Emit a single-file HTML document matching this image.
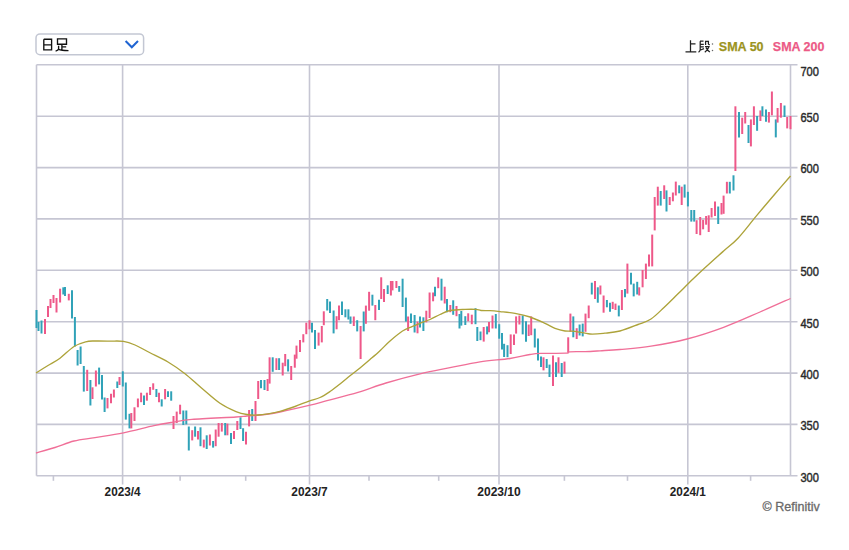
<!DOCTYPE html>
<html><head><meta charset="utf-8"><style>
html,body{margin:0;padding:0;background:#fff;width:849px;height:550px;overflow:hidden}
svg{display:block;font-family:"Liberation Sans",sans-serif}
</style></head><body>
<svg width="849" height="550" viewBox="0 0 849 550">
<rect width="849" height="550" fill="#fff"/>
<line x1="36.5" y1="64.8" x2="797.5" y2="64.8" stroke="#c6c6d3" stroke-width="1.6"/>
<line x1="36.5" y1="116.2" x2="797.5" y2="116.2" stroke="#c6c6d3" stroke-width="1.6"/>
<line x1="36.5" y1="167.6" x2="797.5" y2="167.6" stroke="#c6c6d3" stroke-width="1.6"/>
<line x1="36.5" y1="218.9" x2="797.5" y2="218.9" stroke="#c6c6d3" stroke-width="1.6"/>
<line x1="36.5" y1="270.3" x2="797.5" y2="270.3" stroke="#c6c6d3" stroke-width="1.6"/>
<line x1="36.5" y1="321.7" x2="797.5" y2="321.7" stroke="#c6c6d3" stroke-width="1.6"/>
<line x1="36.5" y1="373.1" x2="797.5" y2="373.1" stroke="#c6c6d3" stroke-width="1.6"/>
<line x1="36.5" y1="424.4" x2="797.5" y2="424.4" stroke="#c6c6d3" stroke-width="1.6"/>
<line x1="36.5" y1="475.8" x2="797.5" y2="475.8" stroke="#c6c6d3" stroke-width="1.6"/>
<line x1="122.6" y1="64.8" x2="122.6" y2="484.5" stroke="#c6c6d3" stroke-width="1.6"/>
<line x1="309.5" y1="64.8" x2="309.5" y2="484.5" stroke="#c6c6d3" stroke-width="1.6"/>
<line x1="499.0" y1="64.8" x2="499.0" y2="484.5" stroke="#c6c6d3" stroke-width="1.6"/>
<line x1="687.8" y1="64.8" x2="687.8" y2="484.5" stroke="#c6c6d3" stroke-width="1.6"/>
<line x1="36.5" y1="64.8" x2="36.5" y2="475.8" stroke="#c6c6d3" stroke-width="1.6"/>
<line x1="790.5" y1="64.8" x2="790.5" y2="475.8" stroke="#c6c6d3" stroke-width="1.6"/>
<line x1="53.4" y1="475.8" x2="53.4" y2="480.8" stroke="#c6c6d3" stroke-width="1.6"/>
<line x1="180.1" y1="475.8" x2="180.1" y2="480.8" stroke="#c6c6d3" stroke-width="1.6"/>
<line x1="245.7" y1="475.8" x2="245.7" y2="480.8" stroke="#c6c6d3" stroke-width="1.6"/>
<line x1="369.0" y1="475.8" x2="369.0" y2="480.8" stroke="#c6c6d3" stroke-width="1.6"/>
<line x1="438.7" y1="475.8" x2="438.7" y2="480.8" stroke="#c6c6d3" stroke-width="1.6"/>
<line x1="564.4" y1="475.8" x2="564.4" y2="480.8" stroke="#c6c6d3" stroke-width="1.6"/>
<line x1="627.5" y1="475.8" x2="627.5" y2="480.8" stroke="#c6c6d3" stroke-width="1.6"/>
<line x1="750.6" y1="475.8" x2="750.6" y2="480.8" stroke="#c6c6d3" stroke-width="1.6"/>
<line x1="36.5" y1="310.0" x2="36.5" y2="328.0" stroke="#30a2b8" stroke-width="2"/>
<line x1="38.5" y1="322.0" x2="38.5" y2="331.0" stroke="#30a2b8" stroke-width="2"/>
<line x1="41.5" y1="320.5" x2="41.5" y2="333.5" stroke="#30a2b8" stroke-width="2"/>
<line x1="45.0" y1="319.0" x2="45.0" y2="334.0" stroke="#ee5889" stroke-width="2"/>
<line x1="48.0" y1="306.0" x2="48.0" y2="317.0" stroke="#ee5889" stroke-width="2"/>
<line x1="50.5" y1="299.0" x2="50.5" y2="308.0" stroke="#ee5889" stroke-width="2"/>
<line x1="53.5" y1="295.0" x2="53.5" y2="303.0" stroke="#ee5889" stroke-width="2"/>
<line x1="56.5" y1="298.0" x2="56.5" y2="312.5" stroke="#ee5889" stroke-width="2"/>
<line x1="60.1" y1="288.7" x2="60.1" y2="302.5" stroke="#ee5889" stroke-width="2"/>
<line x1="63.3" y1="287.3" x2="63.3" y2="294.5" stroke="#30a2b8" stroke-width="2"/>
<line x1="65.0" y1="287.0" x2="65.0" y2="296.0" stroke="#30a2b8" stroke-width="2"/>
<line x1="68.8" y1="293.8" x2="68.8" y2="300.4" stroke="#ee5889" stroke-width="2"/>
<line x1="72.0" y1="290.2" x2="72.0" y2="318.5" stroke="#30a2b8" stroke-width="2"/>
<line x1="74.9" y1="317.0" x2="74.9" y2="346.5" stroke="#30a2b8" stroke-width="2"/>
<line x1="77.6" y1="350.0" x2="77.6" y2="365.5" stroke="#30a2b8" stroke-width="2"/>
<line x1="80.6" y1="346.5" x2="80.6" y2="364.0" stroke="#30a2b8" stroke-width="2"/>
<line x1="83.8" y1="366.0" x2="83.8" y2="391.6" stroke="#30a2b8" stroke-width="2"/>
<line x1="87.2" y1="369.8" x2="87.2" y2="391.0" stroke="#ee5889" stroke-width="2"/>
<line x1="90.4" y1="380.0" x2="90.4" y2="405.5" stroke="#30a2b8" stroke-width="2"/>
<line x1="92.5" y1="387.3" x2="92.5" y2="399.0" stroke="#ee5889" stroke-width="2"/>
<line x1="95.9" y1="370.5" x2="95.9" y2="386.5" stroke="#ee5889" stroke-width="2"/>
<line x1="99.1" y1="367.6" x2="99.1" y2="384.4" stroke="#30a2b8" stroke-width="2"/>
<line x1="102.0" y1="375.0" x2="102.0" y2="399.6" stroke="#30a2b8" stroke-width="2"/>
<line x1="104.6" y1="397.5" x2="104.6" y2="412.0" stroke="#30a2b8" stroke-width="2"/>
<line x1="107.5" y1="398.0" x2="107.5" y2="408.4" stroke="#ee5889" stroke-width="2"/>
<line x1="111.0" y1="393.8" x2="111.0" y2="403.3" stroke="#ee5889" stroke-width="2"/>
<line x1="113.9" y1="389.5" x2="113.9" y2="397.5" stroke="#ee5889" stroke-width="2"/>
<line x1="117.3" y1="381.5" x2="117.3" y2="388.0" stroke="#30a2b8" stroke-width="2"/>
<line x1="119.5" y1="377.0" x2="119.5" y2="385.0" stroke="#ee5889" stroke-width="2"/>
<line x1="122.8" y1="371.3" x2="122.8" y2="386.5" stroke="#30a2b8" stroke-width="2"/>
<line x1="125.8" y1="382.5" x2="125.8" y2="419.6" stroke="#30a2b8" stroke-width="2"/>
<line x1="129.5" y1="413.8" x2="129.5" y2="428.4" stroke="#30a2b8" stroke-width="2"/>
<line x1="131.3" y1="413.0" x2="131.3" y2="428.4" stroke="#ee5889" stroke-width="2"/>
<line x1="134.5" y1="407.3" x2="134.5" y2="421.0" stroke="#ee5889" stroke-width="2"/>
<line x1="137.9" y1="398.5" x2="137.9" y2="407.3" stroke="#ee5889" stroke-width="2"/>
<line x1="141.1" y1="392.7" x2="141.1" y2="402.2" stroke="#ee5889" stroke-width="2"/>
<line x1="144.0" y1="395.6" x2="144.0" y2="405.0" stroke="#30a2b8" stroke-width="2"/>
<line x1="146.9" y1="392.7" x2="146.9" y2="400.7" stroke="#ee5889" stroke-width="2"/>
<line x1="150.1" y1="387.0" x2="150.1" y2="395.0" stroke="#ee5889" stroke-width="2"/>
<line x1="153.2" y1="383.3" x2="153.2" y2="389.8" stroke="#ee5889" stroke-width="2"/>
<line x1="156.4" y1="389.0" x2="156.4" y2="397.0" stroke="#30a2b8" stroke-width="2"/>
<line x1="159.0" y1="392.7" x2="159.0" y2="402.2" stroke="#ee5889" stroke-width="2"/>
<line x1="161.7" y1="399.3" x2="161.7" y2="406.5" stroke="#30a2b8" stroke-width="2"/>
<line x1="165.1" y1="389.0" x2="165.1" y2="399.3" stroke="#ee5889" stroke-width="2"/>
<line x1="168.0" y1="391.3" x2="168.0" y2="397.0" stroke="#30a2b8" stroke-width="2"/>
<line x1="171.2" y1="391.3" x2="171.2" y2="400.7" stroke="#30a2b8" stroke-width="2"/>
<line x1="173.5" y1="416.0" x2="173.5" y2="429.0" stroke="#ee5889" stroke-width="2"/>
<line x1="176.7" y1="411.6" x2="176.7" y2="423.0" stroke="#ee5889" stroke-width="2"/>
<line x1="180.1" y1="404.7" x2="180.1" y2="414.2" stroke="#ee5889" stroke-width="2"/>
<line x1="183.3" y1="410.5" x2="183.3" y2="425.0" stroke="#30a2b8" stroke-width="2"/>
<line x1="186.3" y1="410.5" x2="186.3" y2="424.4" stroke="#30a2b8" stroke-width="2"/>
<line x1="188.8" y1="426.5" x2="188.8" y2="450.5" stroke="#30a2b8" stroke-width="2"/>
<line x1="192.2" y1="430.2" x2="192.2" y2="440.4" stroke="#ee5889" stroke-width="2"/>
<line x1="195.1" y1="426.5" x2="195.1" y2="436.7" stroke="#30a2b8" stroke-width="2"/>
<line x1="198.0" y1="431.0" x2="198.0" y2="439.6" stroke="#ee5889" stroke-width="2"/>
<line x1="200.5" y1="427.3" x2="200.5" y2="446.2" stroke="#30a2b8" stroke-width="2"/>
<line x1="203.8" y1="439.6" x2="203.8" y2="447.6" stroke="#ee5889" stroke-width="2"/>
<line x1="206.7" y1="435.3" x2="206.7" y2="449.0" stroke="#30a2b8" stroke-width="2"/>
<line x1="209.9" y1="434.5" x2="209.9" y2="445.5" stroke="#ee5889" stroke-width="2"/>
<line x1="213.1" y1="441.0" x2="213.1" y2="447.6" stroke="#30a2b8" stroke-width="2"/>
<line x1="215.7" y1="429.5" x2="215.7" y2="446.2" stroke="#ee5889" stroke-width="2"/>
<line x1="218.6" y1="423.0" x2="218.6" y2="436.7" stroke="#ee5889" stroke-width="2"/>
<line x1="221.8" y1="423.0" x2="221.8" y2="431.6" stroke="#ee5889" stroke-width="2"/>
<line x1="225.2" y1="423.0" x2="225.2" y2="435.3" stroke="#30a2b8" stroke-width="2"/>
<line x1="227.4" y1="423.6" x2="227.4" y2="435.3" stroke="#ee5889" stroke-width="2"/>
<line x1="231.0" y1="433.0" x2="231.0" y2="444.0" stroke="#30a2b8" stroke-width="2"/>
<line x1="234.0" y1="431.0" x2="234.0" y2="439.0" stroke="#ee5889" stroke-width="2"/>
<line x1="237.3" y1="421.0" x2="237.3" y2="430.0" stroke="#ee5889" stroke-width="2"/>
<line x1="240.5" y1="417.3" x2="240.5" y2="429.0" stroke="#30a2b8" stroke-width="2"/>
<line x1="243.1" y1="428.2" x2="243.1" y2="441.0" stroke="#30a2b8" stroke-width="2"/>
<line x1="246.0" y1="431.8" x2="246.0" y2="444.5" stroke="#ee5889" stroke-width="2"/>
<line x1="249.1" y1="410.0" x2="249.1" y2="426.4" stroke="#ee5889" stroke-width="2"/>
<line x1="252.2" y1="409.0" x2="252.2" y2="421.0" stroke="#30a2b8" stroke-width="2"/>
<line x1="255.5" y1="401.0" x2="255.5" y2="421.0" stroke="#ee5889" stroke-width="2"/>
<line x1="258.2" y1="381.0" x2="258.2" y2="399.0" stroke="#ee5889" stroke-width="2"/>
<line x1="261.0" y1="380.0" x2="261.0" y2="388.2" stroke="#30a2b8" stroke-width="2"/>
<line x1="264.5" y1="380.0" x2="264.5" y2="390.0" stroke="#30a2b8" stroke-width="2"/>
<line x1="267.6" y1="379.0" x2="267.6" y2="391.0" stroke="#ee5889" stroke-width="2"/>
<line x1="269.6" y1="357.3" x2="269.6" y2="383.6" stroke="#ee5889" stroke-width="2"/>
<line x1="272.7" y1="357.3" x2="272.7" y2="371.8" stroke="#30a2b8" stroke-width="2"/>
<line x1="276.4" y1="358.2" x2="276.4" y2="370.0" stroke="#ee5889" stroke-width="2"/>
<line x1="279.1" y1="358.2" x2="279.1" y2="370.0" stroke="#30a2b8" stroke-width="2"/>
<line x1="282.7" y1="362.7" x2="282.7" y2="375.5" stroke="#ee5889" stroke-width="2"/>
<line x1="285.2" y1="354.0" x2="285.2" y2="366.2" stroke="#ee5889" stroke-width="2"/>
<line x1="288.1" y1="359.3" x2="288.1" y2="371.5" stroke="#30a2b8" stroke-width="2"/>
<line x1="291.2" y1="366.0" x2="291.2" y2="380.0" stroke="#ee5889" stroke-width="2"/>
<line x1="294.8" y1="354.6" x2="294.8" y2="367.7" stroke="#ee5889" stroke-width="2"/>
<line x1="296.5" y1="345.6" x2="296.5" y2="358.7" stroke="#ee5889" stroke-width="2"/>
<line x1="300.0" y1="340.0" x2="300.0" y2="352.0" stroke="#ee5889" stroke-width="2"/>
<line x1="303.3" y1="334.2" x2="303.3" y2="342.4" stroke="#ee5889" stroke-width="2"/>
<line x1="306.3" y1="322.7" x2="306.3" y2="334.2" stroke="#ee5889" stroke-width="2"/>
<line x1="309.5" y1="320.3" x2="309.5" y2="329.3" stroke="#ee5889" stroke-width="2"/>
<line x1="312.0" y1="322.7" x2="312.0" y2="332.6" stroke="#30a2b8" stroke-width="2"/>
<line x1="315.0" y1="330.0" x2="315.0" y2="349.0" stroke="#30a2b8" stroke-width="2"/>
<line x1="318.6" y1="332.6" x2="318.6" y2="345.6" stroke="#ee5889" stroke-width="2"/>
<line x1="321.8" y1="326.0" x2="321.8" y2="342.4" stroke="#ee5889" stroke-width="2"/>
<line x1="323.8" y1="311.3" x2="323.8" y2="325.2" stroke="#ee5889" stroke-width="2"/>
<line x1="327.2" y1="299.0" x2="327.2" y2="310.5" stroke="#30a2b8" stroke-width="2"/>
<line x1="330.0" y1="301.5" x2="330.0" y2="313.0" stroke="#30a2b8" stroke-width="2"/>
<line x1="333.6" y1="310.5" x2="333.6" y2="333.4" stroke="#30a2b8" stroke-width="2"/>
<line x1="336.6" y1="316.2" x2="336.6" y2="329.3" stroke="#ee5889" stroke-width="2"/>
<line x1="339.0" y1="305.5" x2="339.0" y2="320.3" stroke="#ee5889" stroke-width="2"/>
<line x1="342.0" y1="301.5" x2="342.0" y2="315.0" stroke="#30a2b8" stroke-width="2"/>
<line x1="345.4" y1="309.3" x2="345.4" y2="317.3" stroke="#30a2b8" stroke-width="2"/>
<line x1="348.4" y1="309.3" x2="348.4" y2="319.5" stroke="#30a2b8" stroke-width="2"/>
<line x1="350.5" y1="316.5" x2="350.5" y2="323.8" stroke="#30a2b8" stroke-width="2"/>
<line x1="353.8" y1="316.5" x2="353.8" y2="326.0" stroke="#ee5889" stroke-width="2"/>
<line x1="357.2" y1="320.2" x2="357.2" y2="331.4" stroke="#30a2b8" stroke-width="2"/>
<line x1="360.6" y1="326.0" x2="360.6" y2="359.0" stroke="#ee5889" stroke-width="2"/>
<line x1="363.7" y1="311.5" x2="363.7" y2="331.4" stroke="#30a2b8" stroke-width="2"/>
<line x1="365.9" y1="305.6" x2="365.9" y2="323.8" stroke="#ee5889" stroke-width="2"/>
<line x1="369.1" y1="291.8" x2="369.1" y2="310.7" stroke="#ee5889" stroke-width="2"/>
<line x1="372.4" y1="294.7" x2="372.4" y2="305.6" stroke="#30a2b8" stroke-width="2"/>
<line x1="375.3" y1="305.0" x2="375.3" y2="320.2" stroke="#ee5889" stroke-width="2"/>
<line x1="379.0" y1="299.8" x2="379.0" y2="310.0" stroke="#30a2b8" stroke-width="2"/>
<line x1="381.2" y1="277.3" x2="381.2" y2="299.0" stroke="#ee5889" stroke-width="2"/>
<line x1="384.0" y1="289.0" x2="384.0" y2="302.0" stroke="#ee5889" stroke-width="2"/>
<line x1="387.7" y1="285.3" x2="387.7" y2="294.0" stroke="#30a2b8" stroke-width="2"/>
<line x1="390.9" y1="281.0" x2="390.9" y2="295.5" stroke="#ee5889" stroke-width="2"/>
<line x1="392.5" y1="281.0" x2="392.5" y2="290.4" stroke="#ee5889" stroke-width="2"/>
<line x1="396.4" y1="281.0" x2="396.4" y2="288.0" stroke="#ee5889" stroke-width="2"/>
<line x1="399.2" y1="286.0" x2="399.2" y2="291.8" stroke="#30a2b8" stroke-width="2"/>
<line x1="402.6" y1="278.7" x2="402.6" y2="307.0" stroke="#30a2b8" stroke-width="2"/>
<line x1="405.9" y1="297.6" x2="405.9" y2="321.6" stroke="#30a2b8" stroke-width="2"/>
<line x1="408.1" y1="316.5" x2="408.1" y2="331.0" stroke="#ee5889" stroke-width="2"/>
<line x1="411.0" y1="313.6" x2="411.0" y2="323.0" stroke="#30a2b8" stroke-width="2"/>
<line x1="414.6" y1="315.0" x2="414.6" y2="332.5" stroke="#30a2b8" stroke-width="2"/>
<line x1="417.5" y1="321.6" x2="417.5" y2="333.3" stroke="#ee5889" stroke-width="2"/>
<line x1="420.0" y1="316.5" x2="420.0" y2="327.5" stroke="#30a2b8" stroke-width="2"/>
<line x1="423.4" y1="317.3" x2="423.4" y2="331.0" stroke="#30a2b8" stroke-width="2"/>
<line x1="426.3" y1="310.7" x2="426.3" y2="322.4" stroke="#ee5889" stroke-width="2"/>
<line x1="429.6" y1="292.5" x2="429.6" y2="318.0" stroke="#ee5889" stroke-width="2"/>
<line x1="433.1" y1="292.5" x2="433.1" y2="301.3" stroke="#ee5889" stroke-width="2"/>
<line x1="435.0" y1="286.7" x2="435.0" y2="296.2" stroke="#30a2b8" stroke-width="2"/>
<line x1="438.2" y1="277.3" x2="438.2" y2="288.2" stroke="#ee5889" stroke-width="2"/>
<line x1="441.5" y1="278.7" x2="441.5" y2="300.5" stroke="#30a2b8" stroke-width="2"/>
<line x1="444.7" y1="286.7" x2="444.7" y2="303.5" stroke="#ee5889" stroke-width="2"/>
<line x1="447.0" y1="299.0" x2="447.0" y2="312.2" stroke="#30a2b8" stroke-width="2"/>
<line x1="450.3" y1="305.0" x2="450.3" y2="312.2" stroke="#ee5889" stroke-width="2"/>
<line x1="453.2" y1="300.3" x2="453.2" y2="314.8" stroke="#30a2b8" stroke-width="2"/>
<line x1="456.5" y1="306.0" x2="456.5" y2="316.2" stroke="#ee5889" stroke-width="2"/>
<line x1="459.5" y1="314.0" x2="459.5" y2="328.5" stroke="#30a2b8" stroke-width="2"/>
<line x1="461.3" y1="311.0" x2="461.3" y2="325.6" stroke="#30a2b8" stroke-width="2"/>
<line x1="465.3" y1="316.2" x2="465.3" y2="325.0" stroke="#30a2b8" stroke-width="2"/>
<line x1="468.2" y1="313.3" x2="468.2" y2="321.3" stroke="#ee5889" stroke-width="2"/>
<line x1="471.8" y1="314.7" x2="471.8" y2="324.2" stroke="#ee5889" stroke-width="2"/>
<line x1="475.5" y1="308.2" x2="475.5" y2="324.2" stroke="#30a2b8" stroke-width="2"/>
<line x1="477.3" y1="327.0" x2="477.3" y2="341.0" stroke="#30a2b8" stroke-width="2"/>
<line x1="480.5" y1="331.5" x2="480.5" y2="340.2" stroke="#30a2b8" stroke-width="2"/>
<line x1="483.7" y1="327.0" x2="483.7" y2="341.6" stroke="#ee5889" stroke-width="2"/>
<line x1="487.1" y1="326.4" x2="487.1" y2="334.4" stroke="#30a2b8" stroke-width="2"/>
<line x1="489.0" y1="322.0" x2="489.0" y2="332.2" stroke="#ee5889" stroke-width="2"/>
<line x1="492.5" y1="315.5" x2="492.5" y2="328.5" stroke="#ee5889" stroke-width="2"/>
<line x1="495.8" y1="314.0" x2="495.8" y2="328.5" stroke="#30a2b8" stroke-width="2"/>
<line x1="499.2" y1="324.2" x2="499.2" y2="338.7" stroke="#30a2b8" stroke-width="2"/>
<line x1="502.0" y1="333.0" x2="502.0" y2="349.6" stroke="#30a2b8" stroke-width="2"/>
<line x1="504.1" y1="343.8" x2="504.1" y2="357.0" stroke="#30a2b8" stroke-width="2"/>
<line x1="507.5" y1="345.2" x2="507.5" y2="357.2" stroke="#30a2b8" stroke-width="2"/>
<line x1="510.7" y1="334.4" x2="510.7" y2="354.0" stroke="#ee5889" stroke-width="2"/>
<line x1="514.0" y1="334.4" x2="514.0" y2="345.0" stroke="#ee5889" stroke-width="2"/>
<line x1="516.1" y1="316.4" x2="516.1" y2="333.6" stroke="#ee5889" stroke-width="2"/>
<line x1="519.4" y1="315.5" x2="519.4" y2="324.5" stroke="#ee5889" stroke-width="2"/>
<line x1="522.7" y1="315.5" x2="522.7" y2="334.4" stroke="#30a2b8" stroke-width="2"/>
<line x1="526.0" y1="321.3" x2="526.0" y2="341.7" stroke="#30a2b8" stroke-width="2"/>
<line x1="528.7" y1="324.5" x2="528.7" y2="336.0" stroke="#ee5889" stroke-width="2"/>
<line x1="531.2" y1="316.4" x2="531.2" y2="335.2" stroke="#ee5889" stroke-width="2"/>
<line x1="534.8" y1="328.6" x2="534.8" y2="347.5" stroke="#30a2b8" stroke-width="2"/>
<line x1="538.0" y1="338.5" x2="538.0" y2="360.6" stroke="#30a2b8" stroke-width="2"/>
<line x1="541.0" y1="356.5" x2="541.0" y2="367.0" stroke="#30a2b8" stroke-width="2"/>
<line x1="543.5" y1="357.3" x2="543.5" y2="370.4" stroke="#ee5889" stroke-width="2"/>
<line x1="546.7" y1="359.0" x2="546.7" y2="368.0" stroke="#30a2b8" stroke-width="2"/>
<line x1="549.5" y1="364.6" x2="549.5" y2="377.0" stroke="#30a2b8" stroke-width="2"/>
<line x1="553.0" y1="355.6" x2="553.0" y2="386.0" stroke="#ee5889" stroke-width="2"/>
<line x1="556.0" y1="362.2" x2="556.0" y2="377.0" stroke="#30a2b8" stroke-width="2"/>
<line x1="558.5" y1="357.3" x2="558.5" y2="372.8" stroke="#ee5889" stroke-width="2"/>
<line x1="561.7" y1="363.0" x2="561.7" y2="377.0" stroke="#30a2b8" stroke-width="2"/>
<line x1="564.5" y1="361.6" x2="564.5" y2="373.6" stroke="#ee5889" stroke-width="2"/>
<line x1="568.2" y1="337.3" x2="568.2" y2="352.7" stroke="#ee5889" stroke-width="2"/>
<line x1="570.4" y1="313.6" x2="570.4" y2="331.8" stroke="#ee5889" stroke-width="2"/>
<line x1="573.3" y1="316.4" x2="573.3" y2="337.3" stroke="#30a2b8" stroke-width="2"/>
<line x1="576.7" y1="328.2" x2="576.7" y2="339.0" stroke="#ee5889" stroke-width="2"/>
<line x1="579.6" y1="324.5" x2="579.6" y2="335.5" stroke="#30a2b8" stroke-width="2"/>
<line x1="582.7" y1="323.6" x2="582.7" y2="336.4" stroke="#30a2b8" stroke-width="2"/>
<line x1="585.5" y1="313.6" x2="585.5" y2="331.8" stroke="#ee5889" stroke-width="2"/>
<line x1="588.7" y1="305.5" x2="588.7" y2="318.2" stroke="#ee5889" stroke-width="2"/>
<line x1="591.8" y1="282.7" x2="591.8" y2="294.5" stroke="#30a2b8" stroke-width="2"/>
<line x1="595.0" y1="281.0" x2="595.0" y2="299.0" stroke="#ee5889" stroke-width="2"/>
<line x1="597.8" y1="287.3" x2="597.8" y2="302.7" stroke="#30a2b8" stroke-width="2"/>
<line x1="600.4" y1="285.5" x2="600.4" y2="294.5" stroke="#ee5889" stroke-width="2"/>
<line x1="603.6" y1="295.5" x2="603.6" y2="312.7" stroke="#ee5889" stroke-width="2"/>
<line x1="606.9" y1="300.0" x2="606.9" y2="307.3" stroke="#30a2b8" stroke-width="2"/>
<line x1="610.0" y1="302.7" x2="610.0" y2="311.8" stroke="#30a2b8" stroke-width="2"/>
<line x1="612.7" y1="301.8" x2="612.7" y2="309.0" stroke="#ee5889" stroke-width="2"/>
<line x1="615.5" y1="303.6" x2="615.5" y2="310.0" stroke="#ee5889" stroke-width="2"/>
<line x1="618.8" y1="305.5" x2="618.8" y2="316.4" stroke="#30a2b8" stroke-width="2"/>
<line x1="621.9" y1="290.0" x2="621.9" y2="310.0" stroke="#ee5889" stroke-width="2"/>
<line x1="625.0" y1="289.0" x2="625.0" y2="297.3" stroke="#30a2b8" stroke-width="2"/>
<line x1="627.4" y1="263.6" x2="627.4" y2="293.6" stroke="#ee5889" stroke-width="2"/>
<line x1="631.0" y1="272.7" x2="631.0" y2="284.5" stroke="#30a2b8" stroke-width="2"/>
<line x1="633.7" y1="283.6" x2="633.7" y2="296.4" stroke="#30a2b8" stroke-width="2"/>
<line x1="637.2" y1="281.8" x2="637.2" y2="294.5" stroke="#30a2b8" stroke-width="2"/>
<line x1="639.2" y1="287.3" x2="639.2" y2="295.5" stroke="#ee5889" stroke-width="2"/>
<line x1="642.6" y1="270.0" x2="642.6" y2="287.3" stroke="#ee5889" stroke-width="2"/>
<line x1="645.9" y1="263.6" x2="645.9" y2="279.0" stroke="#ee5889" stroke-width="2"/>
<line x1="649.0" y1="254.5" x2="649.0" y2="266.4" stroke="#ee5889" stroke-width="2"/>
<line x1="652.2" y1="234.6" x2="652.2" y2="266.4" stroke="#ee5889" stroke-width="2"/>
<line x1="654.7" y1="197.0" x2="654.7" y2="230.4" stroke="#ee5889" stroke-width="2"/>
<line x1="657.8" y1="186.7" x2="657.8" y2="205.6" stroke="#ee5889" stroke-width="2"/>
<line x1="660.7" y1="191.0" x2="660.7" y2="205.6" stroke="#30a2b8" stroke-width="2"/>
<line x1="664.2" y1="185.3" x2="664.2" y2="199.0" stroke="#ee5889" stroke-width="2"/>
<line x1="666.5" y1="190.4" x2="666.5" y2="211.5" stroke="#30a2b8" stroke-width="2"/>
<line x1="669.7" y1="197.0" x2="669.7" y2="205.0" stroke="#ee5889" stroke-width="2"/>
<line x1="672.9" y1="192.5" x2="672.9" y2="201.3" stroke="#ee5889" stroke-width="2"/>
<line x1="675.8" y1="181.6" x2="675.8" y2="195.5" stroke="#ee5889" stroke-width="2"/>
<line x1="679.2" y1="185.3" x2="679.2" y2="193.3" stroke="#30a2b8" stroke-width="2"/>
<line x1="681.7" y1="186.7" x2="681.7" y2="205.0" stroke="#ee5889" stroke-width="2"/>
<line x1="684.6" y1="184.5" x2="684.6" y2="197.6" stroke="#30a2b8" stroke-width="2"/>
<line x1="687.9" y1="191.8" x2="687.9" y2="206.4" stroke="#30a2b8" stroke-width="2"/>
<line x1="691.3" y1="210.0" x2="691.3" y2="221.6" stroke="#30a2b8" stroke-width="2"/>
<line x1="694.2" y1="210.0" x2="694.2" y2="221.6" stroke="#30a2b8" stroke-width="2"/>
<line x1="696.6" y1="220.2" x2="696.6" y2="234.0" stroke="#ee5889" stroke-width="2"/>
<line x1="700.2" y1="217.0" x2="700.2" y2="235.2" stroke="#ee5889" stroke-width="2"/>
<line x1="703.1" y1="219.8" x2="703.1" y2="229.3" stroke="#ee5889" stroke-width="2"/>
<line x1="706.1" y1="216.0" x2="706.1" y2="224.7" stroke="#ee5889" stroke-width="2"/>
<line x1="708.7" y1="215.3" x2="708.7" y2="232.0" stroke="#ee5889" stroke-width="2"/>
<line x1="711.6" y1="208.0" x2="711.6" y2="217.5" stroke="#ee5889" stroke-width="2"/>
<line x1="715.0" y1="201.5" x2="715.0" y2="216.0" stroke="#ee5889" stroke-width="2"/>
<line x1="718.2" y1="206.5" x2="718.2" y2="224.0" stroke="#30a2b8" stroke-width="2"/>
<line x1="721.5" y1="203.0" x2="721.5" y2="214.5" stroke="#ee5889" stroke-width="2"/>
<line x1="723.6" y1="195.6" x2="723.6" y2="213.8" stroke="#ee5889" stroke-width="2"/>
<line x1="726.9" y1="181.8" x2="726.9" y2="193.5" stroke="#ee5889" stroke-width="2"/>
<line x1="729.8" y1="181.8" x2="729.8" y2="193.5" stroke="#30a2b8" stroke-width="2"/>
<line x1="733.5" y1="175.3" x2="733.5" y2="190.5" stroke="#30a2b8" stroke-width="2"/>
<line x1="735.4" y1="106.3" x2="735.4" y2="171.0" stroke="#ee5889" stroke-width="2"/>
<line x1="739.0" y1="112.0" x2="739.0" y2="137.4" stroke="#30a2b8" stroke-width="2"/>
<line x1="742.2" y1="117.7" x2="742.2" y2="134.0" stroke="#ee5889" stroke-width="2"/>
<line x1="745.2" y1="112.0" x2="745.2" y2="123.5" stroke="#ee5889" stroke-width="2"/>
<line x1="748.5" y1="125.0" x2="748.5" y2="143.0" stroke="#30a2b8" stroke-width="2"/>
<line x1="750.9" y1="119.4" x2="750.9" y2="146.4" stroke="#ee5889" stroke-width="2"/>
<line x1="753.9" y1="106.3" x2="753.9" y2="125.0" stroke="#ee5889" stroke-width="2"/>
<line x1="757.1" y1="116.0" x2="757.1" y2="130.8" stroke="#30a2b8" stroke-width="2"/>
<line x1="760.4" y1="110.4" x2="760.4" y2="121.0" stroke="#ee5889" stroke-width="2"/>
<line x1="762.4" y1="106.3" x2="762.4" y2="116.0" stroke="#30a2b8" stroke-width="2"/>
<line x1="766.0" y1="109.5" x2="766.0" y2="121.8" stroke="#30a2b8" stroke-width="2"/>
<line x1="768.9" y1="112.0" x2="768.9" y2="122.6" stroke="#ee5889" stroke-width="2"/>
<line x1="771.9" y1="91.5" x2="771.9" y2="115.3" stroke="#ee5889" stroke-width="2"/>
<line x1="775.8" y1="119.4" x2="775.8" y2="137.4" stroke="#30a2b8" stroke-width="2"/>
<line x1="777.6" y1="108.0" x2="777.6" y2="122.6" stroke="#ee5889" stroke-width="2"/>
<line x1="780.9" y1="103.0" x2="780.9" y2="117.7" stroke="#ee5889" stroke-width="2"/>
<line x1="784.5" y1="105.5" x2="784.5" y2="117.0" stroke="#30a2b8" stroke-width="2"/>
<line x1="787.2" y1="117.0" x2="787.2" y2="128.4" stroke="#ee5889" stroke-width="2"/>
<line x1="790.5" y1="116.0" x2="790.5" y2="129.2" stroke="#ee5889" stroke-width="2"/>
<path d="M36.00,453.00 C39.17,452.08 48.67,449.50 55.00,447.50 C61.33,445.50 67.33,442.65 74.00,441.00 C80.67,439.35 86.75,438.97 95.00,437.60 C103.25,436.23 113.67,434.78 123.50,432.80 C133.33,430.82 145.75,427.47 154.00,425.70 C162.25,423.93 166.67,423.25 173.00,422.20 C179.33,421.15 181.50,420.27 192.00,419.40 C202.50,418.53 226.83,417.57 236.00,417.00 C245.17,416.43 242.17,416.42 247.00,416.00 C251.83,415.58 259.50,415.17 265.00,414.50 C270.50,413.83 272.67,413.52 280.00,412.00 C287.33,410.48 301.17,407.28 309.00,405.40 C316.83,403.52 318.83,402.87 327.00,400.70 C335.17,398.53 348.17,395.35 358.00,392.40 C367.83,389.45 375.50,386.13 386.00,383.00 C396.50,379.87 410.33,376.15 421.00,373.60 C431.67,371.05 440.17,369.67 450.00,367.70 C459.83,365.73 470.00,363.33 480.00,361.80 C490.00,360.27 501.67,359.72 510.00,358.50 C518.33,357.28 524.83,355.35 530.00,354.50 C535.17,353.65 535.00,353.62 541.00,353.40 C547.00,353.18 561.25,353.47 566.00,353.20 C570.75,352.93 566.33,352.07 569.50,351.80 C572.67,351.53 579.92,351.77 585.00,351.60 C590.08,351.43 594.17,351.15 600.00,350.80 C605.83,350.45 611.50,350.27 620.00,349.50 C628.50,348.73 639.83,347.95 651.00,346.20 C662.17,344.45 674.90,342.15 687.00,339.00 C699.10,335.85 711.43,331.80 723.60,327.30 C735.77,322.80 748.85,316.80 760.00,312.00 C771.15,307.20 785.42,300.75 790.50,298.50" fill="none" stroke="#f06f98" stroke-width="1.35"/>
<path d="M36.00,373.00 C38.00,371.75 44.00,367.97 48.00,365.50 C52.00,363.03 55.67,361.37 60.00,358.20 C64.33,355.03 69.73,349.23 74.00,346.50 C78.27,343.77 82.10,342.72 85.60,341.80 C89.10,340.88 90.93,341.12 95.00,341.00 C99.07,340.88 105.25,341.03 110.00,341.10 C114.75,341.17 119.33,340.75 123.50,341.40 C127.67,342.05 130.67,343.15 135.00,345.00 C139.33,346.85 144.00,349.67 149.50,352.50 C155.00,355.33 162.08,358.47 168.00,362.00 C173.92,365.53 179.42,369.37 185.00,373.70 C190.58,378.03 195.67,383.07 201.50,388.00 C207.33,392.93 214.25,399.37 220.00,403.30 C225.75,407.23 231.50,409.73 236.00,411.60 C240.50,413.47 243.33,413.93 247.00,414.50 C250.67,415.07 254.50,415.12 258.00,415.00 C261.50,414.88 264.33,414.42 268.00,413.80 C271.67,413.18 275.50,412.52 280.00,411.30 C284.50,410.08 290.17,408.20 295.00,406.50 C299.83,404.80 304.83,402.60 309.00,401.10 C313.17,399.60 316.50,399.10 320.00,397.50 C323.50,395.90 326.67,393.75 330.00,391.50 C333.33,389.25 336.67,386.62 340.00,384.00 C343.33,381.38 346.67,378.47 350.00,375.80 C353.33,373.13 356.67,370.72 360.00,368.00 C363.33,365.28 366.67,362.38 370.00,359.50 C373.33,356.62 376.67,353.78 380.00,350.70 C383.33,347.62 386.25,344.28 390.00,341.00 C393.75,337.72 398.83,333.40 402.50,331.00 C406.17,328.60 409.08,327.88 412.00,326.60 C414.92,325.32 417.00,324.48 420.00,323.30 C423.00,322.12 426.67,320.97 430.00,319.50 C433.33,318.03 436.67,316.00 440.00,314.50 C443.33,313.00 445.83,311.35 450.00,310.50 C454.17,309.65 460.67,309.58 465.00,309.40 C469.33,309.22 473.33,309.22 476.00,309.40 C478.67,309.58 478.67,310.28 481.00,310.50 C483.33,310.72 486.83,310.52 490.00,310.70 C493.17,310.88 495.83,311.15 500.00,311.60 C504.17,312.05 510.00,312.50 515.00,313.40 C520.00,314.30 525.00,315.35 530.00,317.00 C535.00,318.65 540.83,321.40 545.00,323.30 C549.17,325.20 551.67,327.12 555.00,328.40 C558.33,329.68 561.67,330.52 565.00,331.00 C568.33,331.48 570.83,330.80 575.00,331.30 C579.17,331.80 585.00,333.68 590.00,334.00 C595.00,334.32 600.00,333.70 605.00,333.20 C610.00,332.70 614.50,332.45 620.00,331.00 C625.50,329.55 632.83,326.50 638.00,324.50 C643.17,322.50 646.67,321.83 651.00,319.00 C655.33,316.17 659.50,311.70 664.00,307.50 C668.50,303.30 673.17,298.55 678.00,293.80 C682.83,289.05 688.42,283.42 693.00,279.00 C697.58,274.58 700.40,271.97 705.50,267.30 C710.60,262.63 718.18,255.85 723.60,251.00 C729.02,246.15 732.60,243.97 738.00,238.20 C743.40,232.43 749.92,223.68 756.00,216.40 C762.08,209.12 768.75,201.23 774.50,194.50 C780.25,187.77 787.83,179.08 790.50,176.00" fill="none" stroke="#ada33a" stroke-width="1.35"/>
<text x="800.4" y="75.8" font-size="13.3" textLength="18.5" lengthAdjust="spacingAndGlyphs" fill="#2a2a2a" stroke="#2a2a2a" stroke-width="0.45">700</text>
<text x="800.4" y="122.0" font-size="13.3" textLength="18.5" lengthAdjust="spacingAndGlyphs" fill="#2a2a2a" stroke="#2a2a2a" stroke-width="0.45">650</text>
<text x="800.4" y="173.4" font-size="13.3" textLength="18.5" lengthAdjust="spacingAndGlyphs" fill="#2a2a2a" stroke="#2a2a2a" stroke-width="0.45">600</text>
<text x="800.4" y="224.7" font-size="13.3" textLength="18.5" lengthAdjust="spacingAndGlyphs" fill="#2a2a2a" stroke="#2a2a2a" stroke-width="0.45">550</text>
<text x="800.4" y="276.1" font-size="13.3" textLength="18.5" lengthAdjust="spacingAndGlyphs" fill="#2a2a2a" stroke="#2a2a2a" stroke-width="0.45">500</text>
<text x="800.4" y="327.5" font-size="13.3" textLength="18.5" lengthAdjust="spacingAndGlyphs" fill="#2a2a2a" stroke="#2a2a2a" stroke-width="0.45">450</text>
<text x="800.4" y="378.9" font-size="13.3" textLength="18.5" lengthAdjust="spacingAndGlyphs" fill="#2a2a2a" stroke="#2a2a2a" stroke-width="0.45">400</text>
<text x="800.4" y="430.2" font-size="13.3" textLength="18.5" lengthAdjust="spacingAndGlyphs" fill="#2a2a2a" stroke="#2a2a2a" stroke-width="0.45">350</text>
<text x="800.4" y="481.6" font-size="13.3" textLength="18.5" lengthAdjust="spacingAndGlyphs" fill="#2a2a2a" stroke="#2a2a2a" stroke-width="0.45">300</text>
<text x="122.6" y="496.3" font-size="12.5" font-weight="bold" text-anchor="middle" textLength="36" lengthAdjust="spacingAndGlyphs" fill="#222">2023/4</text>
<text x="309.5" y="496.3" font-size="12.5" font-weight="bold" text-anchor="middle" textLength="36.3" lengthAdjust="spacingAndGlyphs" fill="#222">2023/7</text>
<text x="499.0" y="496.3" font-size="12.5" font-weight="bold" text-anchor="middle" textLength="43.5" lengthAdjust="spacingAndGlyphs" fill="#222">2023/10</text>
<text x="687.8" y="496.3" font-size="12.5" font-weight="bold" text-anchor="middle" textLength="36" lengthAdjust="spacingAndGlyphs" fill="#222">2024/1</text>
<text x="718.8" y="51.2" font-size="13.6" font-weight="bold" fill="#9c941e" stroke="#9c941e" stroke-width="0.25" textLength="44.8" lengthAdjust="spacingAndGlyphs">SMA 50</text>
<text x="772.8" y="51.2" font-size="13.6" font-weight="bold" fill="#ec5a86" stroke="#ec5a86" stroke-width="0.25" textLength="51.6" lengthAdjust="spacingAndGlyphs">SMA 200</text>
<g fill="none" stroke="#222" stroke-width="1.25">
<path d="M690.5 40.2 V51.8 M690.5 43.9 H695.5 M685.5 51.8 H696.3"/>
<path d="M700 41.2 H703.5 M700.2 41.2 V49.8 Q699.8 51.3 698.5 52.3 M700.2 44.3 H703.8 M700.2 46.8 H703.8 M700.5 50 L704 48.6"/>
<path d="M705.6 45 V41.3 H708.4 V43.8 Q708.6 44.6 709.8 44.6 M705 46.6 H709 Q708 50 704.8 52.3 M706 47.6 Q707.5 50.5 709.9 52"/>
</g>
<circle cx="712.5" cy="44" r="0.75" fill="#666"/><circle cx="712.5" cy="50.4" r="0.75" fill="#666"/>
<text x="762.5" y="511" font-size="12.2" fill="#6a6a6a" stroke="#6a6a6a" stroke-width="0.3" textLength="57.2" lengthAdjust="spacingAndGlyphs">© Refinitiv</text>
<rect x="36" y="33.9" width="107.6" height="20.8" rx="4" ry="4" fill="#fff" stroke="#c3c7d3" stroke-width="1.5"/>
<path d="M125.6 41 L131.8 47.3 L138 41" fill="none" stroke="#1f64d2" stroke-width="2"/>
<g fill="none" stroke="#111" stroke-width="1.35">
<path d="M43.8 39.2 V50.6 M43.8 39.2 H51.6 V50.6 M43.8 44.8 H51.6 M43.8 49.8 H51.6"/>
<path d="M57.5 38.9 V44.2 H66.5 V38.9 Z M61.9 44.2 V49.5 M61.9 46.8 H66.2 M58.6 45.8 V49 Q58 50.5 55.6 51.2 M58.8 49.3 Q61 50.4 68.5 50.6"/>
</g>
</svg>
</body></html>
